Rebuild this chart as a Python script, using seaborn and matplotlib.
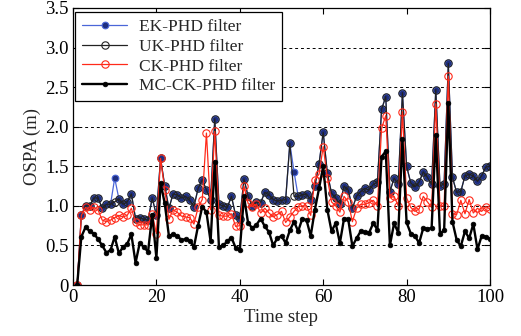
import matplotlib
matplotlib.use("Agg")
import matplotlib.pyplot as plt
import seaborn as sns
import numpy as np
import pandas as pd

time_steps = list(range(1, 101))

ek_phd = [0, 0.88, 1.0, 1.0, 1.10, 1.10, 0.97, 1.02, 1.02, 1.35,
          1.09, 1.02, 1.05, 1.15, 0.84, 0.85, 0.83, 0.82, 1.10, 0.88,
          1.60, 1.25, 0.97, 1.15, 1.14, 1.10, 1.12, 1.07, 0.99, 1.22,
          1.33, 1.20, 1.08, 2.10, 1.02, 1.00, 0.98, 1.12, 0.88, 0.84,
          1.34, 1.12, 1.00, 1.05, 1.04, 1.17, 1.14, 1.08, 1.06, 1.07,
          1.08, 1.79, 1.43, 1.12, 1.14, 1.15, 1.08, 1.25, 1.53, 1.93,
          1.41, 1.16, 1.10, 1.02, 1.25, 1.20, 0.97, 1.12, 1.18, 1.22,
          1.20, 1.27, 1.30, 2.22, 2.38, 1.18, 1.35, 1.28, 2.43, 1.50,
          1.29, 1.24, 1.30, 1.43, 1.36, 1.27, 2.47, 1.25, 1.28, 2.80,
          1.36, 1.17, 1.18, 1.38, 1.40, 1.38, 1.31, 1.38, 1.49, 1.50]

uk_phd = [0, 0.88, 1.0, 1.0, 1.10, 1.10, 0.97, 1.02, 1.02, 1.05,
          1.09, 1.02, 1.05, 1.15, 0.84, 0.85, 0.83, 0.82, 1.10, 0.88,
          1.60, 1.25, 0.97, 1.15, 1.14, 1.10, 1.12, 1.07, 0.99, 1.22,
          1.33, 1.20, 1.08, 2.10, 1.02, 1.00, 0.98, 1.12, 0.88, 0.84,
          1.34, 1.12, 1.00, 1.05, 1.04, 1.17, 1.14, 1.08, 1.06, 1.07,
          1.08, 1.79, 1.12, 1.12, 1.14, 1.15, 1.08, 1.25, 1.53, 1.93,
          1.41, 1.16, 1.10, 1.02, 1.25, 1.20, 0.97, 1.12, 1.18, 1.22,
          1.20, 1.27, 1.30, 2.22, 2.38, 1.18, 1.35, 1.28, 2.43, 1.50,
          1.29, 1.24, 1.30, 1.43, 1.36, 1.27, 2.47, 1.25, 1.28, 2.80,
          1.36, 1.17, 1.18, 1.38, 1.40, 1.38, 1.31, 1.38, 1.49, 1.50]

ck_phd = [0, 0.88, 0.98, 0.95, 0.98, 0.95, 0.82, 0.80, 0.82, 0.85,
          0.88, 0.86, 0.88, 0.97, 0.79, 0.76, 0.76, 0.76, 0.90, 0.65,
          1.60, 1.20, 0.83, 0.95, 0.92, 0.87, 0.86, 0.85, 0.77, 0.98,
          1.08, 1.92, 0.95, 1.94, 0.88, 0.87, 0.87, 0.90, 0.74, 0.75,
          1.25, 1.03, 0.99, 1.02, 0.91, 0.97, 0.91, 0.86, 0.89, 0.93,
          0.79, 0.86, 0.93, 0.99, 1.00, 1.00, 0.88, 1.33, 1.40, 1.75,
          1.35, 1.05, 1.00, 0.92, 1.12, 1.05, 0.80, 0.97, 1.02, 1.02,
          1.04, 1.07, 1.00, 1.98, 2.14, 1.10, 1.12, 1.00, 2.19, 1.10,
          0.98, 0.93, 0.96, 1.12, 1.05, 0.98, 2.29, 1.00, 1.00, 2.64,
          0.90, 0.89, 1.07, 0.90, 1.08, 0.91, 0.97, 0.93, 0.99, 0.96]

mc_ck_phd = [0, 0.61, 0.73, 0.68, 0.65, 0.58, 0.50, 0.41, 0.44, 0.61,
             0.40, 0.48, 0.52, 0.64, 0.28, 0.53, 0.48, 0.42, 0.89, 0.34,
             1.29, 1.03, 0.62, 0.64, 0.62, 0.57, 0.58, 0.56, 0.48, 0.75,
             0.99, 0.92, 0.55, 1.56, 0.48, 0.50, 0.55, 0.60, 0.47, 0.44,
             1.12, 0.78, 0.72, 0.76, 0.84, 0.74, 0.67, 0.50, 0.59, 0.62,
             0.53, 0.69, 0.80, 0.68, 0.84, 0.82, 0.62, 0.95, 1.22, 1.50,
             0.95, 0.68, 0.78, 0.53, 0.84, 0.83, 0.49, 0.59, 0.68, 0.67,
             0.66, 0.78, 0.70, 1.62, 1.69, 0.50, 0.78, 0.66, 1.84, 0.79,
             0.65, 0.62, 0.53, 0.72, 0.71, 0.72, 1.90, 0.65, 0.69, 2.30,
             0.80, 0.57, 0.49, 0.68, 0.59, 0.77, 0.45, 0.62, 0.61, 0.58]

series_names = ["EK-PHD filter", "UK-PHD filter", "CK-PHD filter", "MC-CK-PHD filter"]
x_ticks = [0, 20, 40, 60, 80, 100]
y_ticks = [0, 0.5, 1.0, 1.5, 2.0, 2.5, 3.0, 3.5]
y_tick_labels = ["0", "0.5", "1.0", "1.5", "2.0", "2.5", "3.0", "3.5"]

sns.set_style("ticks")
plt.rcParams["font.family"] = ["Liberation Serif", "DejaVu Serif"]

fig = plt.figure(figsize=(5.21, 3.36), dpi=100)
ax = fig.add_axes([73 / 521, (336 - 285) / 336, (490 - 73) / 521, (285 - 8) / 336])

styles = [
    dict(color="#4a66d8", linewidth=0.9, marker="o", markersize=4.8,
         markerfacecolor="#1f2f80", markeredgecolor="#4a66d8", markeredgewidth=0.8),
    dict(color="#222222", linewidth=0.9, marker="o", markersize=5.3,
         markerfacecolor="none", markeredgecolor="#222222", markeredgewidth=0.8),
    dict(color="#ff2a1a", linewidth=0.9, marker="o", markersize=5.3,
         markerfacecolor="none", markeredgecolor="#ff2a1a", markeredgewidth=0.8),
    dict(color="black", linewidth=1.7, marker="o", markersize=3.4,
         markerfacecolor="black", markeredgecolor="black", markeredgewidth=0.5),
]

for name, vals, st in zip(series_names, [ek_phd, uk_phd, ck_phd, mc_ck_phd], styles):
    df = pd.DataFrame({"t": time_steps, "v": vals})
    sns.lineplot(data=df, x="t", y="v", ax=ax, label=name, **st)

ax.set_xlim(0, 100)
ax.set_ylim(0, 3.5)
ax.set_xticks(x_ticks)
ax.set_yticks(y_ticks)
ax.set_yticklabels(y_tick_labels)
ax.yaxis.grid(True, linestyle=(0, (3, 3)), color="black", linewidth=0.7)
ax.xaxis.grid(False)
ax.tick_params(direction="in", top=True, right=True, length=4, width=0.8,
               labelsize=13.5, colors="black", pad=3)
for sp in ax.spines.values():
    sp.set_linewidth(0.9)
    sp.set_color("black")

ax.set_xlabel("Time step", fontsize=13.5, labelpad=2)
ax.set_ylabel("OSPA (m)", fontsize=13.5, labelpad=3)

leg = ax.legend(loc="upper left", bbox_to_anchor=(0.005, 0.985), fontsize=12.5,
                frameon=True, fancybox=False, edgecolor="black", framealpha=1,
                labelspacing=0.2, handlelength=2.6, handletextpad=0.7,
                borderpad=0.4, borderaxespad=0)
leg.get_frame().set_linewidth(0.9)

fig.savefig("out.png", dpi=100, facecolor="white")
